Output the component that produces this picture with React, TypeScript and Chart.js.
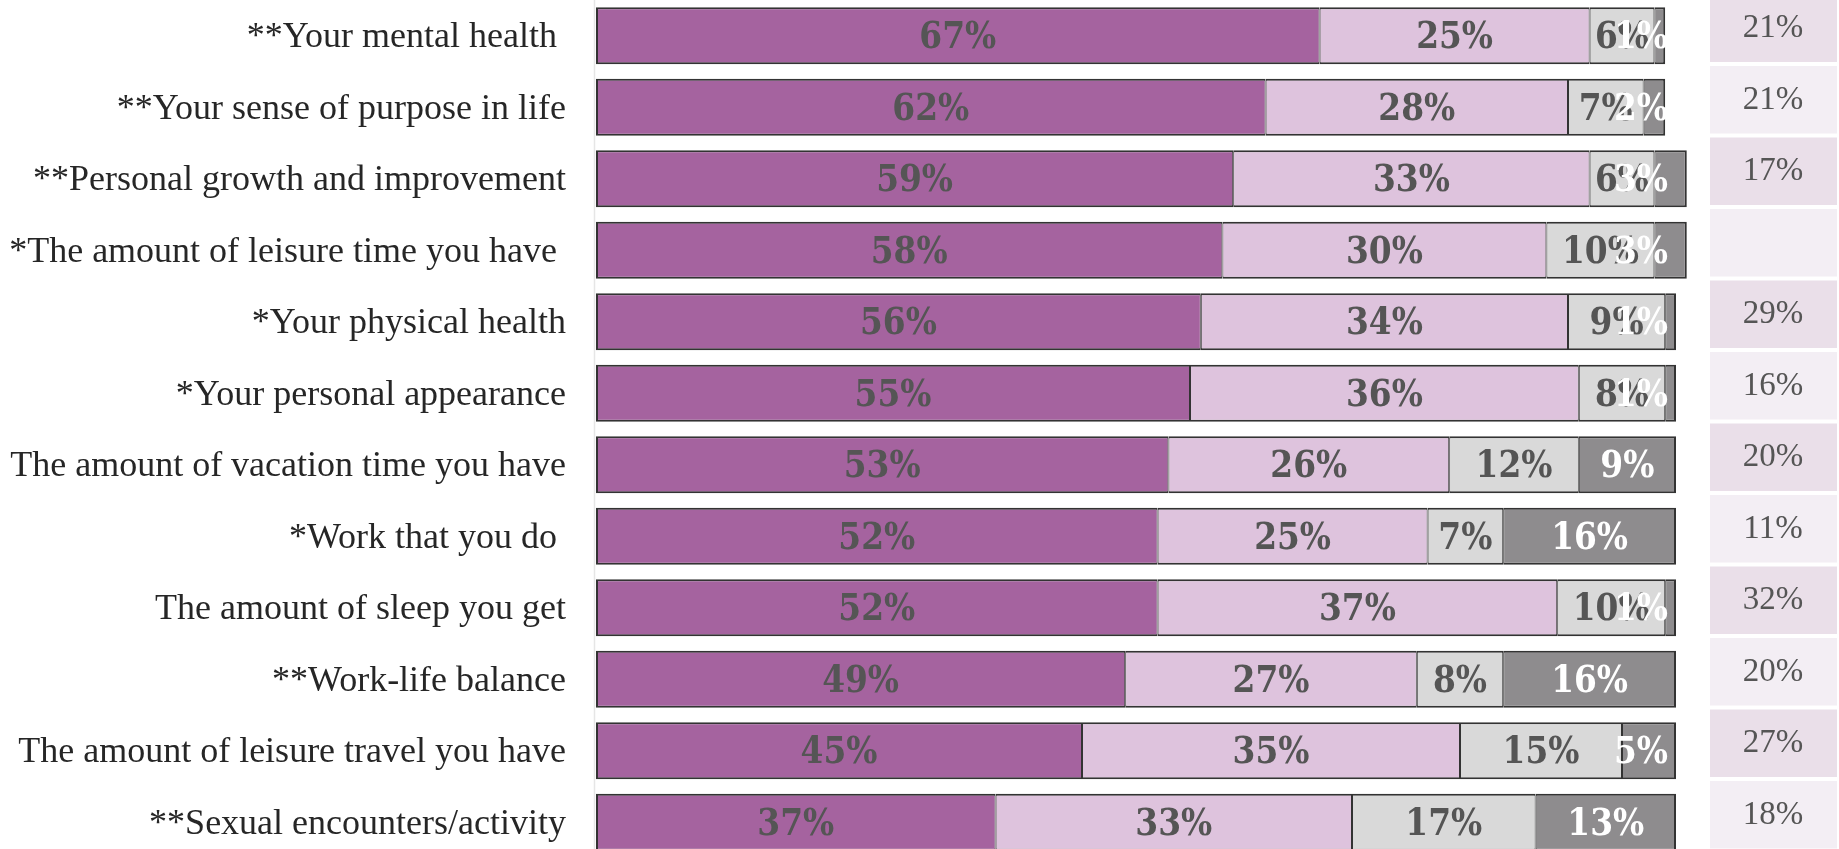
import React, { useEffect, useRef } from "react";
import { Chart, registerables } from "chart.js";

Chart.register(...registerables);

const categories = [
  "**Your mental health ",
  "**Your sense of purpose in life",
  "**Personal growth and improvement",
  "*The amount of leisure time you have ",
  "*Your physical health",
  "*Your personal appearance",
  "The amount of vacation time you have",
  "*Work that you do ",
  "The amount of sleep you get",
  "**Work-life balance",
  "The amount of leisure travel you have",
  "**Sexual encounters/activity",
];

const seriesNames = ["Very satisfied", "Somewhat satisfied", "Somewhat dissatisfied", "Very dissatisfied"];
const series1 = [67, 62, 59, 58, 56, 55, 53, 52, 52, 49, 45, 37];
const series2 = [25, 28, 33, 30, 34, 36, 26, 25, 37, 27, 35, 33];
const series3 = [6, 7, 6, 10, 9, 8, 12, 7, 10, 8, 15, 17];
const series4 = [1, 2, 3, 3, 1, 1, 9, 16, 1, 16, 5, 13];
const sideValues: (number | null)[] = [21, 21, 17, null, 29, 16, 20, 11, 32, 20, 27, 18];

const seriesColors = ["#a5639f", "#dec3dd", "#d9d9d9", "#8e8c8e"];
const labelColors = ["#555555", "#555555", "#555555", "#ffffff"];
const cellColors = ["#eadfe9", "#f3eef4"];

const valueFont = "bold 36.5px 'DejaVu Serif Condensed', 'DejaVu Serif', serif";
const sideFont = "33px 'Liberation Serif', serif";

const valueLabelPlugin = {
  id: "valueLabels",
  afterDatasetsDraw(chart: any) {
    const ctx = chart.ctx;
    const area = chart.chartArea;
    ctx.save();
    ctx.font = valueFont;
    ctx.textBaseline = "middle";
    ctx.textAlign = "center";
    chart.data.datasets.forEach((ds: any, di: number) => {
      const meta = chart.getDatasetMeta(di);
      meta.data.forEach((bar: any, i: number) => {
        const v = ds.data[i];
        if (v == null) return;
        const text = v + "%";
        const w = ctx.measureText(text).width;
        let cx = (bar.base + bar.x) / 2;
        cx = Math.min(cx, area.right - 8 - w / 2);
        ctx.fillStyle = labelColors[di];
        ctx.fillText(text, cx, bar.y + 3);
      });
    });
    ctx.restore();
  },
};

const sideTablePlugin = {
  id: "sideTable",
  afterDraw(chart: any) {
    const ctx = chart.ctx;
    const area = chart.chartArea;
    const yScale = chart.scales.y;
    const left = area.right + 34;
    const width = 127;
    ctx.save();
    ctx.strokeStyle = "#e6e6e6";
    ctx.lineWidth = 1.5;
    ctx.beginPath();
    ctx.moveTo(area.left - 1.5, 0);
    ctx.lineTo(area.left - 1.5, chart.height);
    ctx.stroke();

    ctx.font = sideFont;
    ctx.textAlign = "center";
    ctx.textBaseline = "middle";
    categories.forEach((_, i) => {
      const y = yScale.getPixelForValue(i);
      ctx.fillStyle = cellColors[i % 2];
      ctx.fillRect(left, y - 7.5 - 33.75, width, 67.5);
      const v = sideValues[i];
      if (v != null) {
        ctx.fillStyle = "#555555";
        ctx.fillText(v + "%", left + 63, y - 7);
      }
    });
    ctx.restore();
  },
};

function makeDataset(label: string, data: number[], idx: number) {
  const bw = {
    top: 2,
    bottom: 2,
    left: idx === 0 ? 2 : 1,
    right: idx === 3 ? 2 : 1,
  };
  return {
    label,
    data,
    backgroundColor: seriesColors[idx],
    borderColor: "#333333",
    borderWidth: bw,
    borderSkipped: false,
    barPercentage: 0.8,
    categoryPercentage: 1,
    clip: false,
  };
}

export default function App() {
  const canvasRef = useRef<HTMLCanvasElement | null>(null);

  useEffect(() => {
    document.body.style.margin = "0";
    document.body.style.overflow = "hidden";
    const canvas = canvasRef.current;
    if (!canvas) return;
    const chart = new Chart(canvas, {
      type: "bar",
      data: {
        labels: categories,
        datasets: [
          makeDataset(seriesNames[0], series1, 0),
          makeDataset(seriesNames[1], series2, 1),
          makeDataset(seriesNames[2], series3, 2),
          makeDataset(seriesNames[3], series4, 3),
        ] as any,
      },
      options: {
        indexAxis: "y",
        animation: false,
        responsive: true,
        maintainAspectRatio: false,
        layout: { padding: { left: 0, right: 163, top: 0, bottom: 0 } },
        plugins: {
          legend: { display: false },
          tooltip: { enabled: false },
        },
        scales: {
          x: {
            stacked: true,
            min: 0,
            max: 100,
            display: false,
          },
          y: {
            stacked: true,
            grid: { display: false, drawTicks: false },
            border: { display: false },
            ticks: {
              padding: 30,
              labelOffset: 2,
              color: "#262626",
              font: { family: "'Liberation Serif', serif", size: 36 },
              autoSkip: false,
            },
            afterFit(scale: any) {
              scale.width = 596;
              scale.paddingTop = 0;
              scale.paddingBottom = 0;
            },
          },
        },
      } as any,
      plugins: [valueLabelPlugin, sideTablePlugin],
    });
    return () => chart.destroy();
  }, []);

  return (
    <div
      style={{
        position: "fixed",
        left: 0,
        top: 0,
        width: 1839,
        height: 849,
        overflow: "hidden",
        background: "#ffffff",
      }}
    >
      <div style={{ position: "absolute", left: 0, top: 0, width: 1839, height: 858 }}>
        <canvas ref={canvasRef} />
      </div>
    </div>
  );
}
